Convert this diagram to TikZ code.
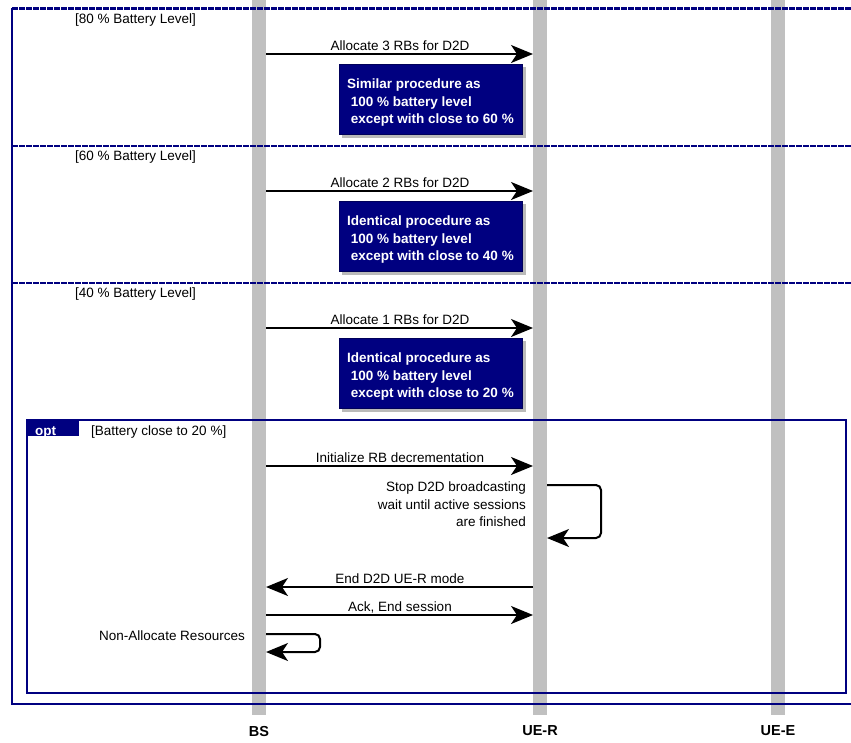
\documentclass[tikz,border=0pt]{standalone}
\usepackage{fontspec}
\setmainfont{Liberation Sans}
\usetikzlibrary{arrows.meta}
\definecolor{framenavy}{RGB}{0,0,128}
\definecolor{lifegray}{RGB}{192,192,192}
\definecolor{shadowgray}{RGB}{140,140,140}
\tikzset{
  txt/.style={inner sep=0pt, font=\fontsize{13.5}{17.5}\selectfont},
  bold/.style={txt, font=\fontsize{13.5}{17.5}\selectfont\bfseries},
  lifeline/.style={draw=lifegray, line width=14pt},
  frameline/.style={draw=framenavy, line width=2.8pt},
  separator/.style={draw=framenavy, line width=2.8pt, dash pattern=on 5.5pt off 1.5pt},
  msg/.style={draw=black, line width=2pt, -{Stealth[length=22pt,width=18pt,inset=6pt]}},
  loopmsg/.style={msg, rounded corners=5pt},
  notebox/.style={fill=framenavy, draw=framenavy!70!black, line width=0.6pt},
  noteshadow/.style={fill=shadowgray, opacity=0.6},
  notetxt/.style={bold, text=white, anchor=base west},
}
% a note box with three lines of text; #1 name, #2 top y
\newcommand\drawnote[5]{%
  \fill[noteshadow] (342,#2+3) rectangle (526,#2+74);
  \path[notebox] (339,#2) rectangle (522,#2+70);
  \node[notetxt] (#1a) at (347,#2+24) {#3};
  \node[notetxt] (#1b) at (347,#2+42) {#4};
  \node[notetxt] (#1c) at (347,#2+59) {#5};
}
\begin{document}
\begin{tikzpicture}[x=1pt,y=-1pt]
\useasboundingbox (0,0) rectangle (851,742);
\fill[white] (0,0) rectangle (851,742);

% lifelines
\coordinate (bsTop) at (259,0);   \coordinate (bsBot) at (259,715);
\coordinate (uerTop) at (540,0);  \coordinate (uerBot) at (540,715);
\coordinate (ueeTop) at (778,0);  \coordinate (ueeBot) at (778,715);
\draw[lifeline] (bsTop) -- (bsBot);
\draw[lifeline] (uerTop) -- (uerBot);
\draw[lifeline] (ueeTop) -- (ueeBot);
\node[bold, font=\fontsize{14.5}{17}\selectfont\bfseries] (bs) at (259,731) {BS};
\node[bold, font=\fontsize{14.5}{17}\selectfont\bfseries] (uer) at (540,731) {UE-R};
\node[bold, font=\fontsize{14.5}{17}\selectfont\bfseries] (uee) at (778,731) {UE-E};

% outer alt frame
\draw[frameline] (860,704) -- (12,704) -- (12,8);
\draw[separator] (12,8.5) -- (860,8.5);
\draw[separator] (12,146) -- (860,146);
\draw[separator] (12,283) -- (860,283);
\node[txt, anchor=base west] (g80) at (75,23) {[80 \% Battery Level]};
\node[txt, anchor=base west] (g60) at (75,160.5) {[60 \% Battery Level]};
\node[txt, anchor=base west] (g40) at (75,297.5) {[40 \% Battery Level]};

% 80 %
\coordinate (m1s) at (266,54); \coordinate (m1e) at (533,54);
\draw[msg] (m1s) -- (m1e);
\node[txt, anchor=base] (m1) at (400,50) {Allocate 3 RBs for D2D};
\drawnote{n1}{64}{Similar procedure as}{\ 100 \% battery level}{\ except with close to 60 \%}

% 60 %
\coordinate (m2s) at (266,191); \coordinate (m2e) at (533,191);
\draw[msg] (m2s) -- (m2e);
\node[txt, anchor=base] (m2) at (400,187) {Allocate 2 RBs for D2D};
\drawnote{n2}{201}{Identical procedure as}{\ 100 \% battery level}{\ except with close to 40 \%}

% 40 %
\coordinate (m3s) at (266,328); \coordinate (m3e) at (533,328);
\draw[msg] (m3s) -- (m3e);
\node[txt, anchor=base] (m3) at (400,324) {Allocate 1 RBs for D2D};
\drawnote{n3}{338}{Identical procedure as}{\ 100 \% battery level}{\ except with close to 20 \%}

% opt fragment
\draw[frameline] (27,420) rectangle (846,693);
\fill[framenavy] (27,420) rectangle (79,436);
\node[bold, text=white, anchor=base west] (opt) at (35,435) {opt};
\node[txt, anchor=base west] (gopt) at (91,435.5) {[Battery close to 20 \%]};

\coordinate (m4s) at (266,466); \coordinate (m4e) at (533,466);
\draw[msg] (m4s) -- (m4e);
\node[txt, anchor=base] (m4) at (400,462.5) {Initialize RB decrementation};

\coordinate (l1s) at (547,485); \coordinate (l1a) at (601,485);
\coordinate (l1b) at (601,538); \coordinate (l1e) at (547,538);
\draw[loopmsg] (l1s) -- (l1a) -- (l1b) -- (l1e);
\node[txt, anchor=base east] (l1t1) at (526,491) {Stop D2D broadcasting};
\node[txt, anchor=base east] (l1t2) at (526,509) {wait until active sessions};
\node[txt, anchor=base east] (l1t3) at (526,526) {are finished};

\coordinate (m5s) at (533,587); \coordinate (m5e) at (266,587);
\draw[msg] (m5s) -- (m5e);
\node[txt, anchor=base] (m5) at (400,583) {End D2D UE-R mode};

\coordinate (m6s) at (266,615); \coordinate (m6e) at (533,615);
\draw[msg] (m6s) -- (m6e);
\node[txt, anchor=base] (m6) at (400,611) {Ack, End session};

\coordinate (l2s) at (266,634); \coordinate (l2a) at (320,634);
\coordinate (l2b) at (320,652); \coordinate (l2e) at (266,652);
\draw[loopmsg] (l2s) -- (l2a) -- (l2b) -- (l2e);
\node[txt, anchor=base east] (l2t) at (245,640) {Non-Allocate Resources};
\end{tikzpicture}
\end{document}
